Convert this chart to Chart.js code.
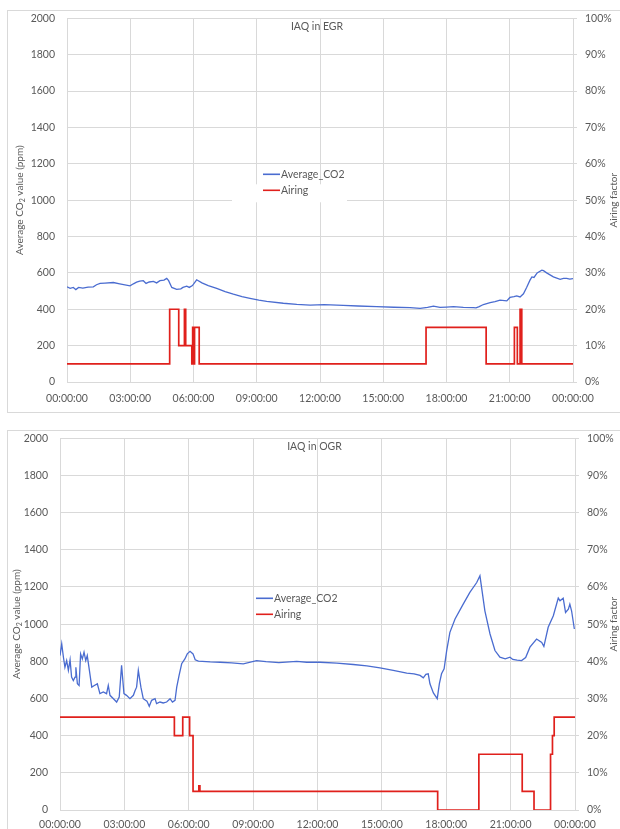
<!DOCTYPE html>
<html>
<head>
<meta charset="utf-8">
<script src="https://cdn.jsdelivr.net/npm/chart.js@4"></script>
<style>
  body { margin: 0; background: #fff; width: 620px; height: 829px; overflow: hidden; position: relative; }
  .frame { position: absolute; left: 7px; width: 650px; border: 1px solid #d9d9d9; }
  canvas { position: absolute; left: 0; }
</style>
</head>
<body>
<div class="frame" style="top:10px;height:401px"></div>
<div class="frame" style="top:430px;height:420px"></div>
<canvas id="egr" width="620" height="412" style="top:0"></canvas>
<canvas id="ogr" width="620" height="409" style="top:420px"></canvas>
<script>
// hours of day, CO2 in ppm, airing in %
const egrCo2Hours = [0, 0.15, 0.3, 0.42, 0.55, 0.75, 1.0, 1.25, 1.4, 1.57, 1.8, 2.2, 2.5, 2.99, 3.15, 3.3, 3.45, 3.62, 3.75, 3.9, 4.1, 4.25, 4.41, 4.6, 4.73, 4.82, 4.97, 5.2, 5.4, 5.5, 5.68, 5.8, 5.95, 6.15, 6.4, 6.7, 7.1, 7.5, 7.89, 8.3, 8.68, 9.1, 9.47, 10.26, 10.9, 11.53, 12.2, 13.1, 13.8, 14.69, 15.5, 16.27, 16.75, 17.1, 17.38, 17.69, 18.0, 18.33, 18.8, 19.27, 19.4, 19.55, 19.75, 20.07, 20.3, 20.54, 20.86, 21.01, 21.2, 21.33, 21.49, 21.65, 21.8, 21.96, 22.05, 22.15, 22.3, 22.52, 22.6, 22.75, 23.07, 23.39, 23.55, 23.7, 23.85, 24];
const egrCo2Ppm = [523, 515, 520, 508, 520, 516, 522, 523, 535, 542, 544, 547, 540, 529, 540, 549, 555, 557, 542, 550, 553, 545, 557, 560, 570, 557, 520, 509, 512, 520, 527, 520, 530, 562, 545, 530, 515, 497, 483, 470, 460, 450, 443, 433, 427, 423, 425, 421, 418, 414, 411, 409, 405, 410, 417, 410, 412, 414, 410, 409, 408, 415, 426, 436, 442, 450, 446, 465, 470, 474, 468, 485, 520, 560, 578, 575, 600, 615, 612, 600, 578, 565, 570, 570, 566, 568];
const egrAiringHours = [0, 4.87, 5.3, 5.57, 5.63, 5.92, 5.96, 6.0, 6.05, 6.27, 17.03, 19.88, 21.22, 21.36, 21.49, 21.57, 24];
const egrAiringPct = [5, 20, 10, 20, 10, 5, 15, 5, 15, 5, 15, 5, 15, 5, 20, 5, 5];

const ogrCo2Hours = [0, 0.08, 0.16, 0.23, 0.31, 0.39, 0.47, 0.54, 0.62, 0.7, 0.74, 0.81, 0.89, 0.96, 1.04, 1.12, 1.2, 1.27, 1.37, 1.48, 1.6, 1.74, 1.86, 2.02, 2.17, 2.25, 2.33, 2.49, 2.64, 2.76, 2.87, 2.98, 3.1, 3.26, 3.42, 3.5, 3.57, 3.65, 3.77, 3.88, 4.05, 4.16, 4.27, 4.43, 4.5, 4.66, 4.81, 4.97, 5.13, 5.24, 5.36, 5.44, 5.55, 5.67, 5.82, 5.93, 6.06, 6.2, 6.3, 6.45, 7.0, 7.46, 8.0, 8.54, 9.16, 9.6, 10.2, 11.03, 11.5, 12.12, 12.9, 13.67, 14.3, 14.91, 15.53, 16.16, 16.5, 16.78, 16.93, 17.05, 17.16, 17.24, 17.4, 17.58, 17.68, 17.78, 17.9, 18.02, 18.17, 18.41, 18.79, 19.1, 19.42, 19.57, 19.8, 20.04, 20.27, 20.5, 20.75, 20.97, 21.1, 21.3, 21.51, 21.7, 21.9, 22.21, 22.45, 22.55, 22.75, 22.99, 23.22, 23.3, 23.45, 23.56, 23.69, 23.76, 23.84, 23.97];
const ogrCo2Ppm = [831, 894, 822, 768, 804, 751, 808, 715, 697, 715, 768, 679, 670, 840, 813, 849, 804, 831, 751, 661, 670, 679, 626, 635, 626, 670, 617, 599, 581, 608, 778, 626, 617, 599, 617, 643, 661, 751, 661, 599, 586, 558, 590, 599, 572, 581, 576, 581, 599, 581, 590, 661, 724, 787, 813, 840, 854, 840, 808, 801, 797, 795, 792, 786, 804, 798, 793, 800, 795, 795, 790, 783, 775, 765, 751, 736, 732, 724, 711, 730, 733, 679, 630, 599, 680, 733, 760, 858, 956, 1028, 1108, 1171, 1224, 1260, 1072, 947, 858, 822, 813, 822, 810, 806, 804, 820, 876, 920, 902, 880, 983, 1045, 1140, 1126, 1140, 1063, 1081, 1108, 1072, 974];
const ogrAiringHours = [0, 5.33, 5.72, 6.04, 6.2, 6.47, 6.52, 17.6, 19.52, 21.54, 22.09, 22.86, 22.95, 23.03, 24];
const ogrAiringPct = [25, 20, 25, 20, 5, 6.5, 5, 0, 15, 5, 0, 15, 20, 25, 25];

const hourTicks = ['00:00:00', '03:00:00', '06:00:00', '09:00:00', '12:00:00', '15:00:00', '18:00:00', '21:00:00', '00:00:00'];
const seriesNames = ['Average_CO2', 'Airing'];

const TXT = '#595959';
const GRID = '#d9d9d9';
const FONT = 'Lato, "Open Sans", sans-serif';
const FS = 10.5;

function pts(xs, ys) {
  return xs.map((x, i) => ({ x: x, y: ys[i] }));
}

const overlay = {
  id: 'overlay',
  beforeDatasetsDraw(chart, args, o) {
    if (!o.box) return;
    const a = chart.chartArea;
    chart.ctx.save();
    chart.ctx.fillStyle = '#fff';
    chart.ctx.fillRect(a.left + o.box[0], a.top + o.box[1], o.box[2], o.box[3]);
    chart.ctx.restore();
  },
  afterDraw(chart, args, o) {
    const ctx = chart.ctx, a = chart.chartArea;
    ctx.save();
    ctx.fillStyle = TXT;
    ctx.font = FS + 'px ' + FONT;
    ctx.textAlign = 'center';
    ctx.textBaseline = 'middle';
    ctx.fillText(o.title, (a.left + a.right) / 2 - 3, a.top + o.titleDy);

    // legend
    ctx.textAlign = 'left';
    const cols = ['#4a6cd0', '#e0201c'];
    seriesNames.forEach((n, i) => {
      const y = a.top + o.legY + i * 16;
      const x = a.left + o.legX;
      ctx.strokeStyle = cols[i];
      ctx.lineWidth = 1.6;
      ctx.beginPath();
      ctx.moveTo(x, y);
      ctx.lineTo(x + 17, y);
      ctx.stroke();
      ctx.fillStyle = TXT;
      ctx.fillText(n, x + 18, y);
    });

    // left axis title with subscript
    const cy = (a.top + a.bottom) / 2;
    ctx.save();
    ctx.translate(o.leftX, cy);
    ctx.rotate(-Math.PI / 2);
    const p1 = 'Average CO', p3 = ' value (ppm)';
    ctx.font = '10px ' + FONT;
    const w1 = ctx.measureText(p1).width, w3 = ctx.measureText(p3).width;
    ctx.font = '7px ' + FONT;
    const w2 = ctx.measureText('2').width;
    let sx = -(w1 + w2 + w3) / 2;
    ctx.font = '10px ' + FONT;
    ctx.fillText(p1, sx, 0);
    ctx.font = '7px ' + FONT;
    ctx.fillText('2', sx + w1, 3);
    ctx.font = '10px ' + FONT;
    ctx.fillText(p3, sx + w1 + w2, 0);
    ctx.restore();

    // right axis title
    ctx.save();
    ctx.translate(o.rightX, cy);
    ctx.rotate(-Math.PI / 2);
    ctx.textAlign = 'center';
    ctx.font = '10px ' + FONT;
    ctx.fillText('Airing factor', 0, 0);
    ctx.restore();
    ctx.restore();
  }
};

function makeChart(id, co2, airing, lay) {
  return new Chart(document.getElementById(id), {
    type: 'line',
    data: {
      datasets: [
        { label: seriesNames[0], data: co2, yAxisID: 'y', borderColor: '#4a6cd0', borderWidth: 1.3, pointRadius: 0, tension: 0 },
        { label: seriesNames[1], data: airing, yAxisID: 'y2', borderColor: '#e0201c', borderWidth: 1.7, pointRadius: 0, stepped: 'before' }
      ]
    },
    options: {
      responsive: false,
      animation: false,
      layout: { padding: { top: lay.top, left: 0, right: 0, bottom: 0 } },
      plugins: {
        legend: { display: false },
        tooltip: { enabled: false },
        overlay: lay.overlay
      },
      scales: {
        x: {
          type: 'linear', min: 0, max: 24,
          afterFit: s => { s.height = lay.xh; },
          ticks: {
            stepSize: 3, autoSkip: false, maxRotation: 0, padding: lay.xpad,
            color: TXT, font: { family: FONT, size: FS },
            callback: v => hourTicks[v / 3]
          },
          grid: { color: GRID, drawTicks: false },
          border: { color: GRID }
        },
        y: {
          position: 'left', min: 0, max: 2000,
          afterFit: s => { s.width = lay.lw; },
          ticks: { stepSize: 200, padding: 12, color: TXT, font: { family: FONT, size: FS }, callback: v => String(v) },
          grid: { color: GRID, drawTicks: false },
          border: { display: false }
        },
        y2: {
          position: 'right', min: 0, max: 100,
          afterFit: s => { s.width = lay.rw; },
          ticks: { stepSize: 10, padding: 8, color: TXT, font: { family: FONT, size: FS }, callback: v => v + '%' },
          grid: { drawOnChartArea: false, drawTicks: true, tickLength: 4, color: GRID },
          border: { color: GRID }
        }
      }
    },
    plugins: [overlay]
  });
}

makeChart('egr', pts(egrCo2Hours, egrCo2Ppm), pts(egrAiringHours, egrAiringPct), {
  top: 18, xh: 30, xpad: 10, lw: 67, rw: 47,
  overlay: { title: 'IAQ in EGR', titleDy: 8, legX: 196, legY: 156, leftX: 20, rightX: 614, box: [165, 166, 115, 18] }
});
makeChart('ogr', pts(ogrCo2Hours, ogrCo2Ppm), pts(ogrAiringHours, ogrAiringPct), {
  top: 17, xh: 19, xpad: 8, lw: 60, rw: 45,
  overlay: { title: 'IAQ in OGR', titleDy: 8, legX: 196, legY: 160, leftX: 17, rightX: 614 }
});
</script>
</body>
</html>
